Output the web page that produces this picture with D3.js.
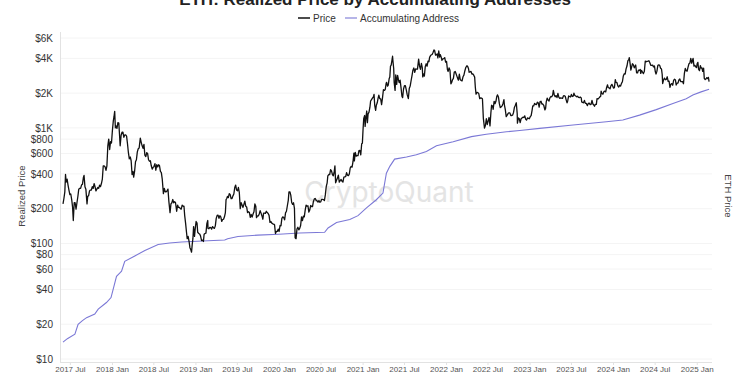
<!DOCTYPE html>
<html>
<head>
<meta charset="utf-8">
<script src="https://cdn.jsdelivr.net/npm/d3@7"></script>
<style>
  html, body { margin: 0; padding: 0; background: #fff; }
  svg { display: block; font-family: "Liberation Sans", Arial, Helvetica, sans-serif; }
</style>
</head>
<body>
<svg id="chart" width="750" height="375"></svg>
<script>
// ---------- DATA ----------
const chartTitle = "ETH: Realized Price by Accumulating Addresses";
const seriesNames = ["Price", "Accumulating Address"];
const yTickValues = [10, 20, 40, 60, 80, 100, 200, 400, 600, 800, 1000, 2000, 4000, 6000];
const xTickDates = ["2017-07-01","2018-01-01","2018-07-01","2019-01-01","2019-07-01","2020-01-01",
  "2020-07-01","2021-01-01","2021-07-01","2022-01-01","2022-07-01","2023-01-01","2023-07-01",
  "2024-01-01","2024-07-01","2025-01-01"];

// ETH price, [month-day, USD]
const price2017 = [["06-01",220],["06-05",245],["06-09",280],["06-12",395],["06-15",340],["06-19",360],["06-23",320],["06-27",290],["07-01",265],["07-05",268],["07-09",240],["07-13",205],["07-16",158],["07-20",225],["07-24",225],["07-28",198],["08-01",225],["08-05",255],["08-09",295],["08-13",300],["08-17",300],["08-21",320],["08-25",325],["08-29",370],["09-01",388],["09-05",310],["09-09",295],["09-14",220],["09-17",255],["09-21",260],["09-25",285],["09-29",290],["10-03",290],["10-07",310],["10-11",300],["10-15",330],["10-19",310],["10-23",285],["10-27",295],["10-31",305],["11-04",300],["11-08",320],["11-12",310],["11-16",330],["11-20",360],["11-24",470],["11-28",470],["12-02",460],["12-06",430],["12-10",470],["12-14",700],["12-18",800],["12-22",650],["12-26",760],["12-30",740]];
const price2018 = [["01-03",950],["01-07",1150],["01-10",1250],["01-13",1390],["01-16",1000],["01-19",1040],["01-23",990],["01-27",1110],["01-31",1100],["02-03",880],["02-06",700],["02-10",860],["02-14",920],["02-18",920],["02-22",830],["02-26",870],["03-02",870],["03-06",850],["03-10",730],["03-14",610],["03-18",540],["03-22",560],["03-26",520],["03-30",395],["04-03",420],["04-06",375],["04-10",420],["04-14",510],["04-18",530],["04-22",620],["04-26",660],["04-30",670],["05-05",815],["05-09",750],["05-13",700],["05-17",665],["05-21",720],["05-25",580],["05-29",565],["06-02",610],["06-06",600],["06-10",530],["06-14",515],["06-18",520],["06-22",470],["06-26",440],["06-30",455],["07-04",465],["07-08",490],["07-12",430],["07-16",480],["07-20",460],["07-24",480],["07-28",470],["08-01",420],["08-05",410],["08-09",360],["08-14",270],["08-18",300],["08-22",280],["08-26",280],["08-30",285],["09-03",295],["09-07",230],["09-12",185],["09-16",220],["09-20",225],["09-24",240],["09-28",225],["10-02",230],["10-06",225],["10-11",190],["10-15",215],["10-19",205],["10-23",205],["10-27",200],["10-31",198],["11-04",215],["11-08",210],["11-12",210],["11-15",175],["11-19",150],["11-23",125],["11-26",110],["11-30",115],["12-04",105],["12-08",92],["12-12",88],["12-15",84],["12-18",98],["12-21",110],["12-24",140],["12-28",115],["12-31",133]];
const price2019 = [["01-04",155],["01-08",150],["01-11",125],["01-15",122],["01-19",121],["01-23",117],["01-28",106],["02-01",107],["02-05",104],["02-08",120],["02-12",122],["02-16",123],["02-20",148],["02-24",158],["02-25",135],["03-01",134],["03-05",138],["03-09",137],["03-13",133],["03-17",140],["03-21",137],["03-25",135],["03-29",142],["04-02",165],["04-06",175],["04-10",176],["04-14",165],["04-18",174],["04-22",170],["04-26",155],["04-30",161],["05-04",162],["05-08",170],["05-12",185],["05-15",240],["05-18",245],["05-21",255],["05-25",250],["05-29",270],["06-02",265],["06-06",245],["06-10",245],["06-14",258],["06-18",268],["06-22",305],["06-26",320],["06-30",290],["07-04",285],["07-08",305],["07-12",275],["07-16",200],["07-20",225],["07-24",215],["07-28",205],["08-01",218],["08-05",232],["08-09",210],["08-13",207],["08-17",185],["08-21",188],["08-25",185],["08-29",168],["09-02",178],["09-06",169],["09-10",180],["09-14",188],["09-18",220],["09-22",210],["09-25",167],["09-29",173],["10-03",173],["10-07",180],["10-11",192],["10-15",183],["10-19",173],["10-23",162],["10-26",183],["10-30",183],["11-03",182],["11-07",190],["11-11",185],["11-15",182],["11-19",175],["11-23",152],["11-27",155],["12-01",150],["12-05",148],["12-09",147],["12-13",145],["12-17",122],["12-21",127],["12-25",127],["12-29",133]];
const price2020 = [["01-02",127],["01-06",143],["01-10",142],["01-14",165],["01-18",170],["01-22",168],["01-26",160],["01-30",184],["02-03",190],["02-07",212],["02-11",236],["02-14",280],["02-18",280],["02-22",262],["02-26",226],["03-01",218],["03-05",225],["03-09",201],["03-12",112],["03-16",110],["03-20",133],["03-24",138],["03-28",131],["04-01",135],["04-05",143],["04-09",170],["04-13",158],["04-17",172],["04-21",170],["04-25",194],["04-29",215],["05-03",210],["05-07",212],["05-11",187],["05-15",195],["05-19",213],["05-23",208],["05-27",208],["05-31",231],["06-04",243],["06-08",245],["06-12",236],["06-16",234],["06-20",228],["06-24",235],["06-28",227],["07-02",230],["07-06",241],["07-10",241],["07-14",240],["07-18",235],["07-22",263],["07-26",310],["07-30",335],["08-02",385],["08-06",395],["08-10",395],["08-14",435],["08-18",425],["08-22",395],["08-26",385],["08-30",420],["09-02",470],["09-05",335],["09-09",352],["09-13",368],["09-17",390],["09-21",340],["09-25",350],["09-29",358],["10-03",346],["10-07",340],["10-11",375],["10-15",377],["10-19",378],["10-23",410],["10-27",390],["10-31",386],["11-04",400],["11-08",452],["11-12",464],["11-16",458],["11-20",510],["11-24",606],["11-26",518],["11-30",615],["12-04",570],["12-08",575],["12-12",575],["12-16",637],["12-20",640],["12-24",585],["12-28",730],["12-31",737]];
const price2021 = [["01-03",975],["01-06",1210],["01-10",1280],["01-12",1030],["01-16",1250],["01-19",1400],["01-22",1110],["01-25",1320],["01-29",1370],["02-02",1510],["02-05",1710],["02-09",1760],["02-13",1810],["02-17",1850],["02-20",1950],["02-23",1570],["02-27",1420],["03-02",1570],["03-06",1650],["03-10",1820],["03-13",1920],["03-17",1790],["03-21",1780],["03-25",1590],["03-29",1820],["04-02",2140],["04-06",2110],["04-10",2150],["04-14",2430],["04-16",2480],["04-20",2300],["04-23",2350],["04-27",2660],["04-30",2760],["05-03",3430],["05-06",3490],["05-10",3930],["05-12",4170],["05-14",3730],["05-17",3270],["05-19",2480],["05-23",2110],["05-26",2880],["05-30",2380],["06-03",2850],["06-07",2600],["06-10",2470],["06-14",2590],["06-18",2230],["06-22",1880],["06-25",1830],["06-29",2170],["07-03",2320],["07-07",2320],["07-11",2130],["07-15",1940],["07-20",1790],["07-24",2190],["07-28",2300],["08-01",2560],["08-05",2830],["08-09",3160],["08-13",3300],["08-17",3020],["08-21",3240],["08-25",3230],["08-29",3230],["09-03",3940],["09-07",3430],["09-11",3210],["09-15",3610],["09-19",3330],["09-21",2760],["09-25",2930],["09-28",2810],["10-02",3390],["10-06",3590],["10-10",3420],["10-14",3790],["10-18",3740],["10-21",4080],["10-25",4220],["10-28",4290],["11-01",4320],["11-05",4490],["11-09",4730],["11-12",4670],["11-16",4260],["11-19",4290],["11-23",4370],["11-26",4040],["11-30",4630],["12-04",4100],["12-07",4300],["12-11",4080],["12-14",3850],["12-18",3960],["12-22",3980],["12-26",4060],["12-30",3710]];
const price2022 = [["01-03",3770],["01-07",3190],["01-10",3080],["01-14",3310],["01-18",3160],["01-22",2410],["01-25",2460],["01-29",2610],["02-02",2680],["02-06",3050],["02-10",3080],["02-14",2930],["02-18",2780],["02-22",2640],["02-24",2590],["02-28",2920],["03-04",2620],["03-08",2570],["03-12",2560],["03-16",2770],["03-20",2860],["03-24",3110],["03-28",3330],["04-02",3450],["04-05",3410],["04-09",3260],["04-12",3030],["04-16",3060],["04-20",3080],["04-24",2920],["04-28",2940],["05-02",2860],["05-06",2750],["05-09",2240],["05-12",1960],["05-16",2030],["05-20",2020],["05-24",1980],["05-28",1790],["06-01",1820],["06-05",1810],["06-09",1790],["06-13",1210],["06-18",995],["06-22",1050],["06-26",1200],["06-30",1070],["07-04",1150],["07-08",1230],["07-12",1040],["07-16",1360],["07-19",1570],["07-23",1550],["07-26",1450],["07-30",1700],["08-03",1620],["08-07",1700],["08-11",1880],["08-14",1930],["08-18",1850],["08-22",1620],["08-26",1500],["08-30",1520],["09-03",1550],["09-07",1630],["09-11",1760],["09-13",1580],["09-17",1440],["09-21",1250],["09-25",1290],["09-29",1330],["10-03",1350],["10-07",1350],["10-11",1280],["10-15",1280],["10-19",1290],["10-23",1360],["10-27",1510],["10-31",1570],["11-04",1650],["11-08",1330],["11-09",1100],["11-13",1220],["11-17",1200],["11-21",1110],["11-25",1200],["11-29",1220],["12-03",1240],["12-07",1230],["12-11",1270],["12-15",1190],["12-19",1170],["12-23",1220],["12-27",1210],["12-31",1200]];
const price2023 = [["01-04",1250],["01-08",1280],["01-12",1420],["01-15",1550],["01-19",1550],["01-23",1630],["01-27",1600],["01-31",1590],["02-04",1670],["02-08",1650],["02-12",1510],["02-16",1690],["02-20",1700],["02-24",1610],["02-28",1610],["03-04",1570],["03-09",1430],["03-12",1470],["03-15",1680],["03-19",1810],["03-23",1740],["03-27",1710],["03-31",1820],["04-04",1870],["04-08",1860],["04-12",1920],["04-15",2110],["04-19",1940],["04-23",1860],["04-27",1900],["05-01",1830],["05-05",1990],["05-09",1850],["05-13",1800],["05-17",1820],["05-21",1810],["05-25",1800],["05-29",1890],["06-02",1900],["06-06",1880],["06-10",1750],["06-14",1650],["06-17",1720],["06-21",1890],["06-25",1870],["06-29",1850],["07-03",1950],["07-07",1870],["07-11",1880],["07-14",2000],["07-18",1910],["07-22",1890],["07-26",1860],["07-30",1880],["08-03",1840],["08-07",1830],["08-11",1850],["08-15",1820],["08-17",1680],["08-21",1660],["08-25",1650],["08-29",1730],["09-02",1630],["09-06",1630],["09-11",1560],["09-15",1630],["09-19",1640],["09-23",1590],["09-27",1600],["10-01",1730],["10-05",1610],["10-09",1580],["10-12",1540],["10-16",1600],["10-20",1600],["10-23",1790],["10-27",1780],["10-31",1810],["11-04",1850],["11-08",1880],["11-10",2080],["11-14",1980],["11-18",1960],["11-22",2060],["11-26",2080],["11-30",2050],["12-04",2240],["12-08",2360],["12-11",2230],["12-15",2220],["12-19",2180],["12-23",2320],["12-27",2380],["12-31",2290]];
const price2024 = [["01-03",2210],["01-07",2230],["01-11",2620],["01-14",2480],["01-18",2470],["01-22",2310],["01-26",2260],["01-30",2340],["02-03",2300],["02-07",2430],["02-11",2510],["02-15",2820],["02-19",2940],["02-23",2920],["02-27",3240],["03-02",3430],["03-06",3820],["03-10",3890],["03-12",4060],["03-16",3560],["03-19",3160],["03-22",3340],["03-26",3590],["03-30",3510],["04-03",3310],["04-07",3450],["04-09",3500],["04-13",3000],["04-17",2990],["04-21",3160],["04-25",3150],["04-29",3210],["05-01",2960],["05-05",3140],["05-09",3040],["05-13",2950],["05-17",3090],["05-21",3790],["05-25",3740],["05-29",3770],["06-02",3780],["06-06",3810],["06-10",3670],["06-14",3480],["06-18",3480],["06-22",3500],["06-26",3370],["06-30",3440],["07-04",3060],["07-07",2930],["07-11",3100],["07-15",3480],["07-19",3510],["07-23",3480],["07-27",3280],["07-31",3230],["08-03",2900],["08-05",2420],["08-09",2600],["08-13",2700],["08-17",2610],["08-21",2630],["08-25",2770],["08-29",2530],["09-02",2540],["09-06",2240],["09-10",2390],["09-14",2420],["09-18",2340],["09-22",2580],["09-26",2640],["09-30",2600],["10-03",2350],["10-07",2440],["10-11",2440],["10-15",2600],["10-19",2650],["10-23",2520],["10-27",2510],["10-31",2520],["11-04",2410],["11-08",2960],["11-12",3270],["11-16",3130],["11-20",3100],["11-24",3360],["11-28",3590],["12-02",3640],["12-06",3990],["12-10",3630],["12-14",3870],["12-16",4000],["12-20",3430],["12-24",3480],["12-28",3370],["12-31",3330]];
const price2025 = [["01-03",3610],["01-06",3690],["01-09",3220],["01-13",3130],["01-17",3460],["01-20",3300],["01-24",3300],["01-27",3080],["01-31",3290],["02-03",2680],["02-07",2620],["02-10",2650],["02-14",2720],["02-18",2670],["02-21",2740],["02-24",2520]];

// Realized price of accumulating addresses, [date, USD]
const realizedDates = ["2017-06-01","2017-06-20","2017-07-23","2017-08-06","2017-08-25","2017-09-12","2017-10-18","2017-11-02","2017-12-08","2017-12-28","2018-01-21","2018-02-06","2018-02-12","2018-02-26","2018-04-11","2018-05-25","2018-07-22","2018-09-10","2018-11-01","2019-02-01","2019-05-09","2019-05-22","2019-07-06","2019-10-01","2020-01-01","2020-04-01","2020-07-19","2020-08-03","2020-09-09","2020-11-06","2020-12-12","2021-01-18","2021-03-02","2021-03-31","2021-04-15","2021-04-30","2021-05-21","2021-07-12","2021-08-24","2021-10-07","2021-11-20","2022-02-01","2022-04-22","2022-06-26","2022-09-22","2022-11-19","2023-02-14","2023-07-10","2023-12-03","2024-02-13","2024-04-26","2024-07-08","2024-09-19","2024-11-16","2024-12-15","2025-01-20","2025-02-24"];
const realizedValues = [14,15,16.4,20,21.5,22.8,24.5,27,30.8,34,52,56,57.5,70,78,87,98,101,103,105,107,110,115,118,120,123,125,136,152,161,174,203,239,273,405,465,537,560,585,625,700,760,840,880,925,950,990,1060,1130,1170,1290,1440,1630,1790,1930,2050,2160];

// ---------- CHART ----------
const svg = d3.select("#chart");
const parse = d3.utcParse("%Y-%m-%d");

const priceByYear = [[2017,price2017],[2018,price2018],[2019,price2019],[2020,price2020],
  [2021,price2021],[2022,price2022],[2023,price2023],[2024,price2024],[2025,price2025]];
const priceData = priceByYear.flatMap(([yr, arr]) => arr.map(([md, v]) => ({date: parse(yr + "-" + md), value: v})));
const realizedData = realizedDates.map((d, i) => ({date: parse(d), value: realizedValues[i]}));

const x = d3.scaleUtc()
  .domain([parse("2017-06-01"), parse("2025-02-28")])
  .range([63, 710]);
const y = d3.scaleLog()
  .domain([10, 6000])
  .range([359, 38]);

// gridlines
svg.append("g")
  .selectAll("line")
  .data(yTickValues)
  .join("line")
  .attr("x1", 60).attr("x2", 712)
  .attr("y1", d => y(d)).attr("y2", d => y(d))
  .attr("stroke", "#f4f4f4").attr("stroke-width", 1);

// watermark
svg.append("text")
  .attr("x", 389).attr("y", 202)
  .attr("text-anchor", "middle")
  .attr("font-size", 28)
  .attr("font-family", "Inter, 'Noto Sans', sans-serif")
  .attr("fill", "#e4e4e4")
  .text("CryptoQuant");

// x axis
const xAxis = d3.axisBottom(x)
  .tickValues(xTickDates.map(parse))
  .tickFormat(d3.utcFormat("%Y %b"))
  .tickSize(3)
  .tickPadding(2);
const gx = svg.append("g").attr("transform", "translate(0,362)").call(xAxis);
gx.select(".domain").attr("stroke", "#e2e2e2").attr("d", "M60,0.5H712");
gx.selectAll(".tick line").attr("stroke", "#e2e2e2");
gx.selectAll(".tick text").attr("fill", "#555").attr("font-size", 8).attr("y", 4.2);

// y axis
const fmtY = v => v >= 1000 ? "$" + (v / 1000) + "K" : "$" + v;
const yAxis = d3.axisLeft(y)
  .tickValues(yTickValues)
  .tickFormat(fmtY)
  .tickSize(0)
  .tickPadding(7);
const gy = svg.append("g").attr("transform", "translate(60,0)").call(yAxis);
gy.select(".domain").attr("stroke", "#e2e2e2").attr("d", "M0.5,32V362");
gy.selectAll(".tick text").attr("fill", "#333").attr("font-size", 10);

// lines
const line = d3.line().x(d => x(d.date)).y(d => y(d.value));
svg.append("path")
  .datum(realizedData)
  .attr("fill", "none")
  .attr("stroke", "#7b78d6")
  .attr("stroke-width", 1.1)
  .attr("d", line);
svg.append("path")
  .datum(priceData)
  .attr("fill", "none")
  .attr("stroke", "#111")
  .attr("stroke-width", 1.3)
  .attr("stroke-linejoin", "round")
  .attr("d", line);

// axis titles
svg.append("text")
  .attr("transform", "translate(25,196) rotate(-90)")
  .attr("text-anchor", "middle")
  .attr("font-size", 9.5)
  .attr("fill", "#444")
  .text("Realized Price");
svg.append("text")
  .attr("transform", "translate(725,196) rotate(90)")
  .attr("text-anchor", "middle")
  .attr("font-size", 9.5)
  .attr("fill", "#444")
  .text("ETH Price");

// title (cut off at the top as in the reference)
svg.append("text")
  .attr("x", 375).attr("y", 5)
  .attr("text-anchor", "middle")
  .attr("font-size", 17)
  .attr("font-weight", "bold")
  .attr("fill", "#222")
  .text(chartTitle);

// legend
const legendColors = ["#111", "#7b78d6"];
const legendX = [298, 345];
const lg = svg.append("g");
seriesNames.forEach((name, i) => {
  lg.append("line")
    .attr("x1", legendX[i]).attr("x2", legendX[i] + 12)
    .attr("y1", 18).attr("y2", 18)
    .attr("stroke", legendColors[i]).attr("stroke-width", i === 0 ? 1.5 : 1.1);
  lg.append("text")
    .attr("x", legendX[i] + 15).attr("y", 21.5)
    .attr("font-size", 10)
    .attr("fill", "#333")
    .text(name);
});
</script>
</body>
</html>
